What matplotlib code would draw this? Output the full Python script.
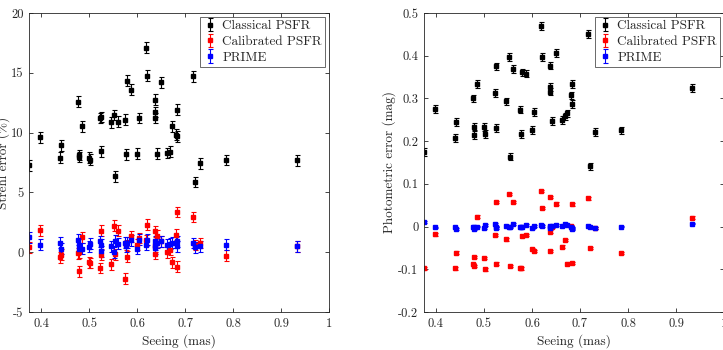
import matplotlib.pyplot as plt
import numpy as np

plt.rcParams['font.family'] = 'cmr10'
plt.rcParams['mathtext.fontset'] = 'cm'
plt.rcParams['axes.unicode_minus'] = False
plt.rcParams['axes.formatter.use_mathtext'] = True

# seeing of each observation (mas)
seeing = [0.375, 0.397, 0.440, 0.442, 0.478, 0.480, 0.480, 0.486, 0.499, 0.503,
          0.522, 0.525, 0.526, 0.546, 0.552, 0.555, 0.561, 0.575, 0.577, 0.580,
          0.588, 0.600, 0.605, 0.618, 0.620, 0.638, 0.638, 0.638, 0.641, 0.649,
          0.663, 0.668, 0.673, 0.681, 0.684, 0.684, 0.717, 0.720, 0.732, 0.785,
          0.933]

# Strehl error (%)
sr_classical = [7.26, 9.6, 7.9, 8.94, 12.57, 8.13, 7.96, 10.53, 7.9, 7.75,
                11.23, 11.3, 8.43, 10.86, 11.48, 6.34, 10.92, 11.09, 8.2, 14.35,
                13.6, 8.24, 11.23, 17.1, 14.75, 12.76, 11.73, 11.23, 8.24, 14.2,
                8.3, 8.4, 10.53, 9.83, 9.7, 11.9, 14.7, 5.87, 7.43, 7.7,
                7.68]
sr_calibrated = [0.4, 1.82, -0.44, -0.22, -0.1, -1.6, 0.0, 1.26, -0.86, -0.9,
                 -1.33, 1.79, -0.2, -1.0, 2.21, -0.18, 1.79, -2.2, 0.6, -0.36,
                 1.32, 0.62, 1.18, 1.0, 2.29, -0.13, 1.74, 0.5, 1.38, 0.9,
                 0.0, 0.2, -0.83, 1.46, -1.22, 3.36, 2.94, 0.6, 0.76, -0.28,
                 0.5]
sr_prime = [1.26, 0.62, 0.79, 0.28, 1.04, 0.62, 0.28, 0.28, 0.45, 0.7,
            0.9, 0.62, 0.06, 0.48, 0.0, 0.95, 0.7, 0.79, 0.5, 0.79,
            1.0, 0.3, 1.04, 0.62, 1.04, 0.9, 0.62, 0.34, 0.79, 0.9,
            0.62, 0.7, 0.79, 0.79, 0.5, 0.9, 0.76, 0.4, 0.48, 0.62,
            0.48]

# photometric error (mag)
ph_classical = [0.174, 0.275, 0.207, 0.245, 0.300, 0.234, 0.215, 0.334, 0.233, 0.217,
                0.313, 0.375, 0.230, 0.293, 0.397, 0.164, 0.369, 0.274, 0.217, 0.361,
                0.358, 0.226, 0.268, 0.470, 0.397, 0.377, 0.327, 0.316, 0.247, 0.406,
                0.249, 0.258, 0.265, 0.307, 0.287, 0.334, 0.451, 0.141, 0.221, 0.225,
                0.325]
ph_calibrated = [-0.098, -0.018, -0.098, -0.061, -0.088, -0.071, -0.092, 0.023, -0.074, -0.1,
                 -0.02, 0.058, -0.087, -0.03, 0.076, -0.092, 0.058, -0.098, -0.098, -0.022,
                 -0.02, -0.052, -0.057, 0.083, 0.043, 0.069, -0.012, -0.057, 0.0, 0.054,
                 -0.047, -0.031, -0.087, 0.001, -0.085, 0.052, 0.066, -0.05, -0.003, -0.062,
                 0.021]
ph_prime = [0.01, -0.002, -0.002, -0.005, -0.002, -0.005, 0.0, 0.0, -0.004, 0.004,
            0.006, 0.0, -0.004, 0.002, 0.0, -0.002, 0.006, -0.001, -0.002, 0.0,
            0.003, -0.003, 0.002, 0.003, 0.002, 0.0, -0.004, 0.002, 0.001, 0.004,
            0.002, 0.006, 0.003, -0.002, -0.005, -0.003, 0.002, -0.002, -0.003, 0.0,
            0.007]

sr_err = 0.45
ph_err = [0.009, 0.003, 0.002]

labels = ['Classical PSFR', 'Calibrated PSFR', 'PRIME']
colors = ['k', '#ff0000', '#0000ff']
txt = '#262626'

fig = plt.figure(figsize=(7.23, 3.5), dpi=100)
ax1 = fig.add_axes([29 / 723, 38 / 350, 300 / 723, 299 / 350])
ax2 = fig.add_axes([424 / 723, 38 / 350, 300 / 723, 299 / 350])

for ys, c, lab in zip([sr_classical, sr_calibrated, sr_prime], colors, labels):
    ax1.errorbar(seeing, ys, yerr=sr_err, fmt='s', color=c, ms=2.6, capsize=1.8,
                 elinewidth=0.8, capthick=0.8, label=lab)
for ys, e, c, lab in zip([ph_classical, ph_calibrated, ph_prime], ph_err, colors, labels):
    ax2.errorbar(seeing, ys, yerr=e, fmt='s', color=c, ms=2.6, capsize=1.8,
                 elinewidth=0.8, capthick=0.8, label=lab)

ax1.set_xlim(0.375, 1.0)
ax1.set_ylim(-5, 20)
ax1.set_yticks([-5, 0, 5, 10, 15, 20])
ax1.set_yticklabels(['-5', '0', '5', '10', '15', '20'])
ax1.set_ylabel('Strehl error (%)', fontsize=9.5, color=txt)
ax1.yaxis.set_label_coords(-0.062, 0.5)

ax2.set_xlim(0.375, 1.0)
ax2.set_ylim(-0.2, 0.5)
ax2.set_yticks([-0.2, -0.1, 0, 0.1, 0.2, 0.3, 0.4, 0.5])
ax2.set_yticklabels(['-0.2', '-0.1', '0', '0.1', '0.2', '0.3', '0.4', '0.5'])
ax2.set_ylabel('Photometric error (mag)', fontsize=9.5, color=txt)
ax2.yaxis.set_label_coords(-0.095, 0.5)

for ax in (ax1, ax2):
    ax.set_xticks([0.4, 0.5, 0.6, 0.7, 0.8, 0.9, 1.0])
    ax.set_xticklabels(['0.4', '0.5', '0.6', '0.7', '0.8', '0.9', '1'])
    ax.set_xlabel('Seeing (mas)', fontsize=9.5, color=txt, labelpad=3)
    ax.tick_params(direction='in', top=True, right=True, length=3, width=0.6,
                   labelsize=9, colors=txt, pad=4)
    for s in ax.spines.values():
        s.set_linewidth(0.6)
        s.set_color(txt)
    leg = ax.legend(loc='upper right', fontsize=9.5, frameon=True, fancybox=False,
                    borderpad=0.25, handlelength=1.0, handletextpad=0.4,
                    labelspacing=0.25, borderaxespad=0.3)
    leg.get_frame().set_edgecolor(txt)
    leg.get_frame().set_linewidth(0.6)
    for t in leg.get_texts():
        t.set_color(txt)

fig.savefig('out.png', dpi=100)
